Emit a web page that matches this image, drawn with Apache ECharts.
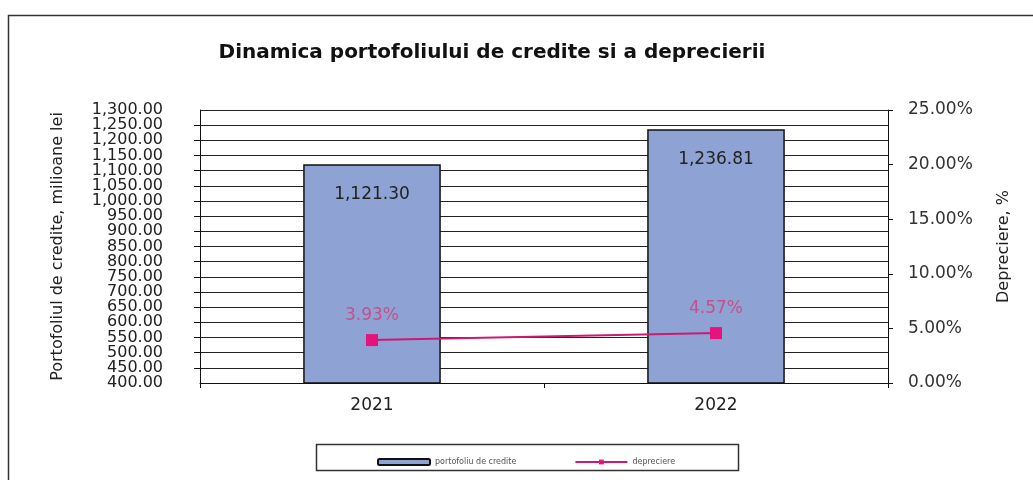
<!DOCTYPE html>
<html>
<head>
<meta charset="utf-8">
<script src="https://cdn.jsdelivr.net/npm/echarts@6/dist/echarts.min.js"></script>
<style>
  html, body { margin: 0; padding: 0; background: #fff; }
  #chart { width: 1033px; height: 480px; }
</style>
</head>
<body>
<div id="chart"></div>
<script>
const years = ['2021', '2022'];
const portofoliu = [1121.30, 1236.81];
const depreciere = [3.93, 4.57];

const font = '"DejaVu Sans", Arial, sans-serif';

const fmtNum = v => v.toLocaleString('en-US', { minimumFractionDigits: 2, maximumFractionDigits: 2 });

const chart = echarts.init(document.getElementById('chart'));

chart.setOption({
  animation: false,
  textStyle: { fontFamily: font },
  title: {
    text: 'Dinamica portofoliului de credite si a deprecierii',
    left: 487,
    textAlign: 'center',
    top: 38,
    textStyle: { fontSize: 20, fontWeight: 'bold', color: '#111', fontFamily: font }
  },
  graphic: [
    {
      type: 'rect',
      shape: { x: 8.5, y: 15.5, width: 1040, height: 480 },
      style: { fill: 'none', stroke: '#333', lineWidth: 1.5 },
      silent: true
    },
    {
      type: 'rect',
      shape: { x: 316.5, y: 444.5, width: 422, height: 26 },
      style: { fill: 'none', stroke: '#333', lineWidth: 1.5 },
      silent: true
    }
  ],
  legend: {
    left: 372,
    top: 453,
    itemWidth: 52,
    itemHeight: 6,
    itemGap: 58,
    textStyle: { fontSize: 8, color: '#555', fontFamily: font },
    data: ['portofoliu de credite', 'depreciere']
  },
  grid: { left: 200, right: 145, top: 110, bottom: 97 },
  xAxis: {
    type: 'category',
    data: years,
    axisLine: { lineStyle: { color: '#111', width: 1 } },
    axisTick: { show: true, length: 5, lineStyle: { color: '#111' } },
    axisLabel: { fontSize: 17, color: '#222', margin: 14 }
  },
  yAxis: [
    {
      type: 'value',
      min: 400,
      max: 1300,
      interval: 50,
      name: 'Portofoliul de credite, milioane lei',
      nameLocation: 'middle',
      nameRotate: 90,
      nameGap: 134,
      nameTextStyle: { fontSize: 16, color: '#222' },
      axisLine: { show: true, lineStyle: { color: '#111' } },
      axisTick: { show: true, length: 6, lineStyle: { color: '#111' } },
      axisLabel: {
        fontSize: 16,
        color: '#222',
        margin: 37,
        showMinLabel: false,
        showMaxLabel: false,
        formatter: v => fmtNum(v)
      },
      splitLine: { show: true, lineStyle: { color: '#222', width: 1 } }
    },
    {
      type: 'value',
      min: 0,
      max: 25,
      interval: 5,
      position: 'right',
      name: 'Depreciere, %',
      nameLocation: 'middle',
      nameRotate: 90,
      nameGap: 108,
      nameTextStyle: { fontSize: 16, color: '#222' },
      axisLine: { show: true, lineStyle: { color: '#111' } },
      axisTick: { show: true, length: 5, lineStyle: { color: '#111' } },
      axisLabel: {
        fontSize: 17,
        color: '#333',
        margin: 20,
        showMinLabel: true,
        showMaxLabel: true,
        formatter: v => v.toFixed(2) + '%'
      },
      splitLine: { show: false }
    },
    {
      // carries only the end labels (400 / 1,300) of the left axis
      type: 'value',
      min: 400,
      max: 1300,
      interval: 900,
      position: 'left',
      axisLine: { show: false },
      axisTick: { show: false },
      splitLine: { show: false },
      axisLabel: {
        fontSize: 16,
        color: '#222',
        margin: 37,
        showMinLabel: true,
        showMaxLabel: true,
        formatter: v => fmtNum(v)
      }
    }
  ],
  series: [
    {
      name: 'portofoliu de credite',
      type: 'bar',
      data: portofoliu,
      barWidth: '40%',
      itemStyle: { color: '#8ea3d4', borderColor: '#111', borderWidth: 1.5 },
      label: {
        show: true,
        position: 'insideTop',
        distance: 22,
        fontSize: 17,
        color: '#222',
        formatter: p => fmtNum(p.value)
      }
    },
    {
      name: 'depreciere',
      type: 'line',
      yAxisIndex: 1,
      data: depreciere,
      symbol: 'rect',
      symbolSize: 12,
      itemStyle: { color: '#e3157c' },
      lineStyle: { color: '#cc1a72', width: 2 },
      label: {
        show: true,
        position: 'top',
        distance: 10,
        fontSize: 17,
        color: '#c6508a',
        formatter: p => p.value.toFixed(2) + '%'
      }
    }
  ]
});
</script>
</body>
</html>
